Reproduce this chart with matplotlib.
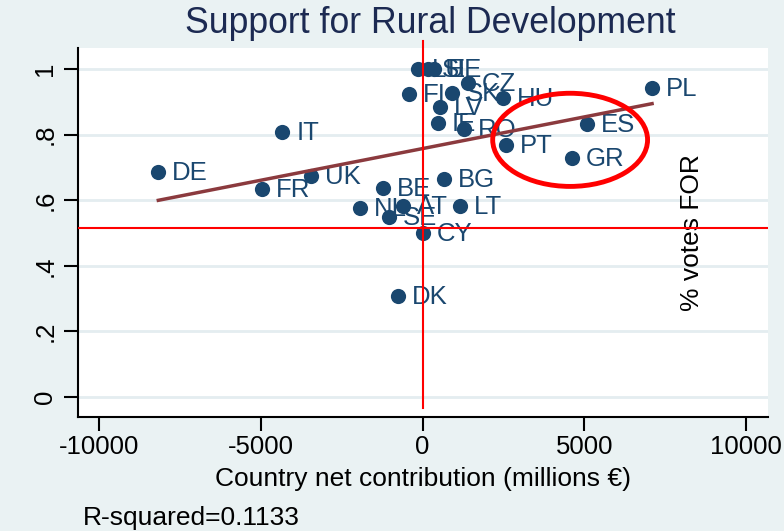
import numpy as np
import matplotlib
matplotlib.use("Agg")
import matplotlib.pyplot as plt
from matplotlib.patches import Ellipse

plt.rcParams['font.family'] = ['Liberation Sans', 'DejaVu Sans']

# country codes, net contribution (millions EUR), share of votes FOR
countries = ['DE', 'FR', 'IT', 'UK', 'BE', 'NL', 'SE', 'AT', 'DK', 'CY',
             'BG', 'LT', 'RO', 'IE', 'PT', 'GR', 'ES', 'PL', 'HU', 'CZ',
             'SK', 'LV', 'FI', 'LU', 'SI', 'EE']
contrib = [-8176, -4961, -4343, -3447, -1221, -1932, -1036, -603, -757, 15,
           665, 1159, 1283, 479, 2581, 4621, 5085, 7094, 2488, 1406,
           912, 541, -417, -139, 170, 355]
votes_for = [0.686, 0.634, 0.808, 0.674, 0.637, 0.576, 0.549, 0.582, 0.308, 0.500,
             0.665, 0.582, 0.817, 0.835, 0.768, 0.729, 0.832, 0.942, 0.912, 0.957,
             0.927, 0.884, 0.924, 1.0, 1.0, 1.0]

xticks = [-10000, -5000, 0, 5000, 10000]
yticks = [0, 0.2, 0.4, 0.6, 0.8, 1.0]
ytick_labels = ['0', '.2', '.4', '.6', '.8', '1']
hline_y = 0.516
rsq_text = 'R-squared=0.1133'

navy = '#1a476f'
bg = '#eaf2f3'

fig = plt.figure(figsize=(7.84, 5.31), dpi=100, facecolor=bg)
ax = fig.add_axes([0.0995, 0.2147, 0.8801, 0.6949])
ax.set_facecolor('white')

x = np.array(contrib, dtype=float)
y = np.array(votes_for)

ax.scatter(x, y, s=120, color=navy, zorder=3, linewidths=0)
for c, xi, yi in zip(countries, x, y):
    ax.annotate(c, (xi, yi), xytext=(10, -0.5), textcoords='offset points',
                va='center', ha='left', fontsize=18.5, color=navy, zorder=4)

# linear fit
b, a = np.polyfit(x, y, 1)
xs = np.array([x.min(), x.max()])
ax.plot(xs, a + b * xs, color='#8b3a3e', lw=2.5, zorder=5)

# reference lines
ax.axhline(hline_y, color='red', lw=1.5, zorder=6)
ax.plot([0, 0], [-0.034, 1.085], color='red', lw=1.5, zorder=6, clip_on=False)

# circled group
ax.add_patch(Ellipse((4560, 0.784), 4790, 0.284, fill=False, edgecolor='red',
                     lw=3.5, zorder=7))

ax.text(8320, 0.5, '% votes FOR', rotation=90, fontsize=19, color='black',
        ha='center', va='center')

ax.set_xlim(-10660, 10680)
ax.set_ylim(-0.061, 1.064)
ax.set_xticks(xticks)
ax.set_xticklabels([str(t) for t in xticks], fontsize=18.5)
ax.set_yticks(yticks)
ax.set_yticklabels(ytick_labels, fontsize=18.5, rotation=90, va='center')
ax.tick_params(axis='both', length=10, width=1.5, color='black')
ax.tick_params(axis='y', pad=5)
ax.tick_params(axis='x', pad=3)
ax.grid(axis='y', color='#e4edf0', lw=2)
ax.set_axisbelow(True)
for side in ['top', 'right']:
    ax.spines[side].set_visible(False)
for side in ['left', 'bottom']:
    ax.spines[side].set_linewidth(1.5)

fig.text(0.549, 0.955, 'Support for Rural Development', fontsize=25.7,
         color='#1c2a52', ha='center', va='center')
fig.text(0.539, 0.097, 'Country net contribution (millions €)', fontsize=19,
         ha='center', va='center')
fig.text(0.106, 0.024, rsq_text, fontsize=19, ha='left', va='center')

fig.savefig('out.png', dpi=100, facecolor=bg)
